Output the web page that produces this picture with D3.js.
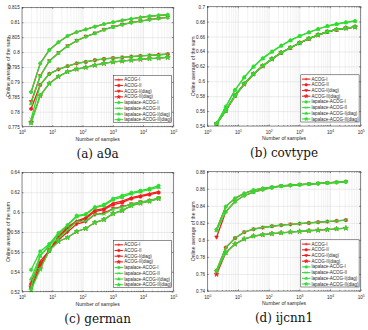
<!DOCTYPE html>
<html>
<head>
<meta charset="utf-8">
<script src="https://cdn.jsdelivr.net/npm/d3@7"></script>
<style>
  body { margin: 0; background: #fff; }
  svg text { font-family: "Liberation Sans", Arial, sans-serif; fill: #262626; }
</style>
</head>
<body>
<svg id="chart" width="368" height="330"></svg>
<script>
// values
var seriesNames = ["ACOG-I", "ACOG-II", "ACOG-I(diag)", "ACOG-II(diag)",
                   "lapalace-ACOG-I", "lapalace-ACOG-II", "lapalace-ACOG-I(diag)", "lapalace-ACOG-II(diag)"];

var samples16 = [2, 4, 8, 16, 32, 64, 128, 256, 512, 1024, 2048, 4096, 8192, 16384, 32768, 65536];
var samples15 = [2, 4, 8, 16, 32, 64, 128, 256, 512, 1024, 2048, 4096, 8192, 16384, 32768];
var xTickVals = [1, 10, 100, 1000, 10000, 100000];
var xTickExps = ["0", "1", "2", "3", "4", "5"];

// (a) a9a
var a9aTicks = [0.775, 0.78, 0.785, 0.79, 0.795, 0.8, 0.805, 0.81, 0.815];
var a9aTickLabels = ["0.775", "0.78", "0.785", "0.79", "0.795", "0.8", "0.805", "0.81", "0.815"];
var a9aAcogI      = [0.7866, 0.7962, 0.8007, 0.8033, 0.8054, 0.8067, 0.8076, 0.8085, 0.8094, 0.8100, 0.8106, 0.8111, 0.8116, 0.8120, 0.8123, 0.8125];
var a9aAcogII     = [0.7810, 0.7890, 0.7927, 0.7942, 0.7953, 0.7962, 0.7967, 0.7973, 0.7977, 0.7980, 0.7982, 0.7985, 0.7987, 0.7989, 0.7991, 0.7993];
var a9aAcogIDiag  = [0.7833, 0.7920, 0.7970, 0.7997, 0.8020, 0.8038, 0.8052, 0.8063, 0.8075, 0.8084, 0.8092, 0.8099, 0.8104, 0.8109, 0.8113, 0.8116];
var a9aAcogIIDiag = [0.7765, 0.7854, 0.7895, 0.7918, 0.7934, 0.7943, 0.7949, 0.7956, 0.7962, 0.7967, 0.7970, 0.7973, 0.7976, 0.7978, 0.7980, 0.7982];
var a9aLapI       = [0.7866, 0.7962, 0.8007, 0.8033, 0.8054, 0.8067, 0.8076, 0.8085, 0.8094, 0.8100, 0.8106, 0.8111, 0.8116, 0.8120, 0.8123, 0.8125];
var a9aLapII      = [0.7775, 0.7890, 0.7927, 0.7942, 0.7953, 0.7962, 0.7967, 0.7973, 0.7977, 0.7980, 0.7982, 0.7985, 0.7987, 0.7989, 0.7991, 0.7993];
var a9aLapIDiag   = [0.7828, 0.7920, 0.7970, 0.7997, 0.8020, 0.8038, 0.8052, 0.8063, 0.8075, 0.8084, 0.8092, 0.8099, 0.8104, 0.8109, 0.8113, 0.8116];
var a9aLapIIDiag  = [0.7762, 0.7854, 0.7895, 0.7918, 0.7934, 0.7943, 0.7949, 0.7956, 0.7962, 0.7967, 0.7970, 0.7973, 0.7976, 0.7978, 0.7980, 0.7982];

// (b) covtype
var covTicks = [0.54, 0.56, 0.58, 0.6, 0.62, 0.64, 0.66, 0.68, 0.7];
var covTickLabels = ["0.54", "0.56", "0.58", "0.6", "0.62", "0.64", "0.66", "0.68", "0.7"];
var covAcogI      = [0.5430, 0.5605, 0.5807, 0.5963, 0.6097, 0.6204, 0.6298, 0.6383, 0.6450, 0.6513, 0.6571, 0.6620, 0.6665, 0.6692, 0.6712, 0.6727];
var covAcogII     = [0.5430, 0.5605, 0.5807, 0.5963, 0.6097, 0.6204, 0.6298, 0.6383, 0.6450, 0.6513, 0.6571, 0.6620, 0.6665, 0.6692, 0.6712, 0.6727];
var covAcogIDiag  = [0.5430, 0.5605, 0.5807, 0.5963, 0.6097, 0.6204, 0.6298, 0.6383, 0.6450, 0.6513, 0.6571, 0.6620, 0.6665, 0.6692, 0.6712, 0.6727];
var covAcogIIDiag = [0.5430, 0.5605, 0.5807, 0.5963, 0.6097, 0.6204, 0.6298, 0.6383, 0.6450, 0.6513, 0.6571, 0.6620, 0.6665, 0.6692, 0.6712, 0.6727];
var covLapI       = [0.5430, 0.5658, 0.5883, 0.6053, 0.6196, 0.6307, 0.6397, 0.6477, 0.6549, 0.6607, 0.6656, 0.6701, 0.6741, 0.6768, 0.6790, 0.6808];
var covLapII      = [0.5430, 0.5605, 0.5807, 0.5963, 0.6097, 0.6204, 0.6298, 0.6383, 0.6450, 0.6513, 0.6571, 0.6620, 0.6665, 0.6692, 0.6712, 0.6727];
var covLapIDiag   = [0.5430, 0.5658, 0.5883, 0.6053, 0.6196, 0.6307, 0.6397, 0.6477, 0.6549, 0.6607, 0.6656, 0.6701, 0.6741, 0.6768, 0.6790, 0.6808];
var covLapIIDiag  = [0.5430, 0.5605, 0.5807, 0.5963, 0.6097, 0.6204, 0.6298, 0.6383, 0.6450, 0.6513, 0.6571, 0.6620, 0.6665, 0.6692, 0.6712, 0.6727];

// (c) german
var gerTicks = [0.52, 0.54, 0.56, 0.58, 0.6, 0.62, 0.64];
var gerTickLabels = ["0.52", "0.54", "0.56", "0.58", "0.6", "0.62", "0.64"];
var gerAcogI      = [0.5297, 0.5505, 0.5615, 0.5755, 0.5850, 0.5910, 0.5945, 0.6020, 0.6035, 0.6090, 0.6110, 0.6145, 0.6165, 0.6185, 0.6205];
var gerAcogII     = [0.5275, 0.5480, 0.5610, 0.5740, 0.5840, 0.5900, 0.5935, 0.6005, 0.6025, 0.6075, 0.6095, 0.6135, 0.6155, 0.6175, 0.6195];
var gerAcogIDiag  = [0.5230, 0.5450, 0.5620, 0.5720, 0.5800, 0.5880, 0.5905, 0.5975, 0.5990, 0.6035, 0.6055, 0.6080, 0.6100, 0.6115, 0.6140];
var gerAcogIIDiag = [0.5250, 0.5440, 0.5615, 0.5705, 0.5745, 0.5805, 0.5835, 0.5895, 0.5925, 0.5985, 0.6015, 0.6065, 0.6090, 0.6110, 0.6135];
var gerLapI       = [0.5420, 0.5605, 0.5680, 0.5790, 0.5870, 0.5965, 0.5980, 0.6050, 0.6075, 0.6135, 0.6165, 0.6195, 0.6215, 0.6235, 0.6265];
var gerLapII      = [0.5250, 0.5560, 0.5670, 0.5735, 0.5820, 0.5905, 0.5910, 0.5980, 0.5980, 0.6030, 0.6050, 0.6080, 0.6100, 0.6115, 0.6140];
var gerLapIDiag   = [0.5330, 0.5560, 0.5660, 0.5780, 0.5865, 0.5955, 0.5975, 0.6045, 0.6065, 0.6125, 0.6150, 0.6185, 0.6205, 0.6225, 0.6250];
var gerLapIIDiag  = [0.5217, 0.5425, 0.5615, 0.5705, 0.5745, 0.5805, 0.5835, 0.5895, 0.5925, 0.5985, 0.6015, 0.6065, 0.6090, 0.6110, 0.6135];

// (d) ijcnn1
var ijcTicks = [0.74, 0.76, 0.78, 0.8, 0.82, 0.84, 0.86, 0.88];
var ijcTickLabels = ["0.74", "0.76", "0.78", "0.8", "0.82", "0.84", "0.86", "0.88"];
var ijcAcogI      = [0.8123, 0.8390, 0.8487, 0.8546, 0.8585, 0.8604, 0.8620, 0.8633, 0.8641, 0.8648, 0.8655, 0.8662, 0.8669, 0.8676, 0.8683];
var ijcAcogII     = [0.7640, 0.7910, 0.8020, 0.8090, 0.8125, 0.8145, 0.8160, 0.8172, 0.8182, 0.8191, 0.8199, 0.8207, 0.8215, 0.8223, 0.8232];
var ijcAcogIDiag  = [0.8030, 0.8330, 0.8450, 0.8520, 0.8560, 0.8590, 0.8613, 0.8630, 0.8640, 0.8647, 0.8654, 0.8661, 0.8668, 0.8675, 0.8682];
var ijcAcogIIDiag = [0.7595, 0.7850, 0.7950, 0.8010, 0.8045, 0.8060, 0.8073, 0.8083, 0.8092, 0.8100, 0.8107, 0.8114, 0.8121, 0.8129, 0.8138];
var ijcLapI       = [0.8123, 0.8390, 0.8487, 0.8546, 0.8585, 0.8604, 0.8620, 0.8633, 0.8641, 0.8648, 0.8655, 0.8662, 0.8669, 0.8676, 0.8683];
var ijcLapII      = [0.7640, 0.7910, 0.8020, 0.8090, 0.8125, 0.8145, 0.8160, 0.8172, 0.8182, 0.8191, 0.8199, 0.8207, 0.8215, 0.8223, 0.8232];
var ijcLapIDiag   = [0.8110, 0.8330, 0.8450, 0.8520, 0.8560, 0.8590, 0.8613, 0.8630, 0.8640, 0.8647, 0.8654, 0.8661, 0.8668, 0.8675, 0.8682];
var ijcLapIIDiag  = [0.7630, 0.7850, 0.7950, 0.8010, 0.8045, 0.8060, 0.8073, 0.8083, 0.8092, 0.8100, 0.8107, 0.8114, 0.8121, 0.8129, 0.8138];

var seriesColors = ["#f01e1e", "#f01e1e", "#f01e1e", "#f01e1e", "#30dc30", "#30dc30", "#30dc30", "#30dc30"];
var seriesMarkers = ["plus", "circle", "triDown", "star", "circle", "times", "triUp", "star"];

var panels = [
  {left: 22, right: 173.3, top: 7.3, bottom: 126.7, xs: samples16, yTicks: a9aTicks, yLabels: a9aTickLabels,
   series: [a9aAcogI, a9aAcogII, a9aAcogIDiag, a9aAcogIIDiag, a9aLapI, a9aLapII, a9aLapIDiag, a9aLapIIDiag],
   caption: "(a) a9a"},
  {left: 207.3, right: 360.7, top: 6.7, bottom: 126, xs: samples16, yTicks: covTicks, yLabels: covTickLabels,
   series: [covAcogI, covAcogII, covAcogIDiag, covAcogIIDiag, covLapI, covLapII, covLapIDiag, covLapIIDiag],
   caption: "(b) covtype"},
  {left: 22, right: 173.3, top: 172.3, bottom: 291.7, xs: samples15, yTicks: gerTicks, yLabels: gerTickLabels,
   series: [gerAcogI, gerAcogII, gerAcogIDiag, gerAcogIIDiag, gerLapI, gerLapII, gerLapIDiag, gerLapIIDiag],
   caption: "(c) german"},
  {left: 207.3, right: 360.7, top: 171.7, bottom: 291, xs: samples15, yTicks: ijcTicks, yLabels: ijcTickLabels,
   series: [ijcAcogI, ijcAcogII, ijcAcogIDiag, ijcAcogIIDiag, ijcLapI, ijcLapII, ijcLapIDiag, ijcLapIIDiag],
   caption: "(d) ijcnn1"}
];

var svg = d3.select("#chart");

function markerPath(type, s) {
  switch (type) {
    case "plus":
      return "M" + (-s) + ",0H" + s + "M0," + (-s) + "V" + s;
    case "times":
      return "M" + (-s) + "," + (-s) + "L" + s + "," + s + "M" + (-s) + "," + s + "L" + s + "," + (-s);
    case "triDown":
      return "M" + (-s) + "," + (-s * 0.75) + "L" + s + "," + (-s * 0.75) + "L0," + (s * 1.05) + "Z";
    case "triUp":
      return "M" + (-s) + "," + (s * 0.75) + "L" + s + "," + (s * 0.75) + "L0," + (-s * 1.05) + "Z";
    case "star":
      return d3.symbol(d3.symbolStar, s * s * 2.2)();
    default:
      return d3.symbol(d3.symbolCircle, s * s * 2.6)();
  }
}

function isStroked(type) { return type === "plus" || type === "times"; }

function drawPanel(p) {
  var g = svg.append("g");
  var x = d3.scaleLog().domain([1, 1e5]).range([p.left, p.right]);
  var y = d3.scaleLinear()
      .domain([p.yTicks[0], p.yTicks[p.yTicks.length - 1]])
      .range([p.bottom, p.top]);
  var w = p.right - p.left, h = p.bottom - p.top;

  g.append("rect")
    .attr("x", p.left).attr("y", p.top).attr("width", w).attr("height", h)
    .attr("fill", "#fff");

  // minor + major grid (x is log)
  var minorTicks = x.ticks().filter(function(v) { return xTickVals.indexOf(v) < 0; });
  g.append("g")
    .attr("transform", "translate(0," + p.bottom + ")")
    .call(d3.axisBottom(x).tickValues(minorTicks).tickSize(-h).tickFormat(""))
    .call(function(a) {
      a.select(".domain").remove();
      a.selectAll("line").attr("stroke", "#e6e6e6").attr("stroke-width", 0.5);
    });
  g.append("g")
    .attr("transform", "translate(0," + p.bottom + ")")
    .call(d3.axisBottom(x).tickValues(xTickVals).tickSize(-h).tickFormat(""))
    .call(function(a) {
      a.select(".domain").remove();
      a.selectAll("line").attr("stroke", "#d8d8d8").attr("stroke-width", 0.5);
    });
  g.append("g")
    .attr("transform", "translate(" + p.left + ",0)")
    .call(d3.axisLeft(y).tickValues(p.yTicks).tickSize(-w).tickFormat(""))
    .call(function(a) {
      a.select(".domain").remove();
      a.selectAll("line").attr("stroke", "#d8d8d8").attr("stroke-width", 0.5);
    });

  // curves
  var line = d3.line()
      .x(function(d) { return x(d[0]); })
      .y(function(d) { return y(d[1]); });

  p.series.forEach(function(vals, i) {
    var pts = p.xs.map(function(v, k) { return [v, vals[k]]; });
    var sg = g.append("g");
    sg.append("path")
      .datum(pts)
      .attr("d", line)
      .attr("fill", "none")
      .attr("stroke", seriesColors[i])
      .attr("stroke-width", 1.3);
    sg.selectAll("path.mk")
      .data(pts)
      .enter()
      .append("path")
        .attr("class", "mk")
        .attr("transform", function(d) { return "translate(" + x(d[0]) + "," + y(d[1]) + ")"; })
        .attr("d", markerPath(seriesMarkers[i], 1.8))
        .attr("fill", isStroked(seriesMarkers[i]) ? "none" : seriesColors[i])
        .attr("stroke", seriesColors[i])
        .attr("stroke-width", 0.7);
  });

  // box + inward ticks on all sides
  g.append("rect")
    .attr("x", p.left).attr("y", p.top).attr("width", w).attr("height", h)
    .attr("fill", "none").attr("stroke", "#262626").attr("stroke-width", 0.5);

  function tickStyle(a) {
    a.select(".domain").remove();
    a.selectAll("line").attr("stroke", "#262626").attr("stroke-width", 0.5);
  }
  g.append("g").attr("transform", "translate(0," + p.bottom + ")")
    .call(d3.axisBottom(x).tickValues(minorTicks).tickSize(-0.8).tickFormat("")).call(tickStyle);
  g.append("g").attr("transform", "translate(0," + p.top + ")")
    .call(d3.axisTop(x).tickValues(minorTicks).tickSize(-0.8).tickFormat("")).call(tickStyle);
  g.append("g").attr("transform", "translate(0," + p.top + ")")
    .call(d3.axisTop(x).tickValues(xTickVals).tickSize(-1.5).tickFormat("")).call(tickStyle);
  g.append("g").attr("transform", "translate(" + p.right + ",0)")
    .call(d3.axisRight(y).tickValues(p.yTicks).tickSize(-1.5).tickFormat("")).call(tickStyle);

  // x axis with 10^k labels
  g.append("g")
    .attr("transform", "translate(0," + p.bottom + ")")
    .call(d3.axisBottom(x).tickValues(xTickVals).tickSize(-1.5).tickPadding(0).tickFormat(function() { return "10"; }))
    .call(function(a) {
      tickStyle(a);
      a.selectAll("text")
        .attr("y", 7.6).attr("dy", 0)
        .attr("font-size", 4.6)
        .attr("fill", "#262626")
        .append("tspan")
          .attr("dy", -1.9)
          .attr("font-size", 3.4)
          .text(function(d, k) { return xTickExps[k]; });
    });

  // y axis
  g.append("g")
    .attr("transform", "translate(" + p.left + ",0)")
    .call(d3.axisLeft(y).tickValues(p.yTicks).tickSize(-1.5).tickPadding(2.2)
      .tickFormat(function(d, k) { return p.yLabels[k]; }))
    .call(function(a) {
      tickStyle(a);
      a.selectAll("text").attr("font-size", 4.6).attr("fill", "#262626").attr("x", -2.3);
    });

  g.append("text")
    .attr("x", (p.left + p.right) / 2).attr("y", p.bottom + 14.3)
    .attr("text-anchor", "middle").attr("font-size", 5.1)
    .text("Number of samples");

  g.append("text")
    .attr("transform", "translate(" + (p.left - 12.5) + "," + (p.top + h / 2) + ") rotate(-90)")
    .attr("text-anchor", "middle").attr("font-size", 5.1)
    .text("Online average of the sum");

  // legend (south-east)
  var lgW = 58.3, lgH = 47.2;
  var lgX = p.right - 1.6 - lgW, lgY = p.bottom - 4 - lgH;
  var lg = g.append("g");
  lg.append("rect")
    .attr("x", lgX).attr("y", lgY).attr("width", lgW).attr("height", lgH)
    .attr("fill", "#fff").attr("stroke", "#262626").attr("stroke-width", 0.5);
  var rows = lg.selectAll(".lg-row")
      .data(seriesNames)
      .enter()
      .append("g")
        .attr("class", "lg-row")
        .attr("transform", function(d, i) { return "translate(" + lgX + "," + (lgY + 4.3 + i * 5.7) + ")"; });
  rows.append("line")
    .attr("x1", 1.2).attr("x2", 9.6).attr("y1", 0).attr("y2", 0)
    .attr("stroke", function(d, i) { return seriesColors[i]; })
    .attr("stroke-width", 1.1);
  rows.append("path")
    .attr("transform", "translate(5.4,0)")
    .attr("d", function(d, i) { return markerPath(seriesMarkers[i], 1.4); })
    .attr("fill", function(d, i) { return isStroked(seriesMarkers[i]) ? "none" : seriesColors[i]; })
    .attr("stroke", function(d, i) { return seriesColors[i]; })
    .attr("stroke-width", 0.6);
  rows.append("text")
    .attr("x", 10.8).attr("y", 0).attr("dy", "0.35em")
    .attr("font-size", 4.5)
    .text(function(d) { return d; });

  // caption
  svg.append("text")
    .attr("x", (p.left + p.right) / 2).attr("y", p.bottom + 31)
    .attr("text-anchor", "middle")
    .style("font-family", "'DejaVu Serif', serif")
    .style("font-size", "12px")
    .style("fill", "#111")
    .text(p.caption);
}

panels.forEach(drawPanel);
</script>
</body>
</html>
